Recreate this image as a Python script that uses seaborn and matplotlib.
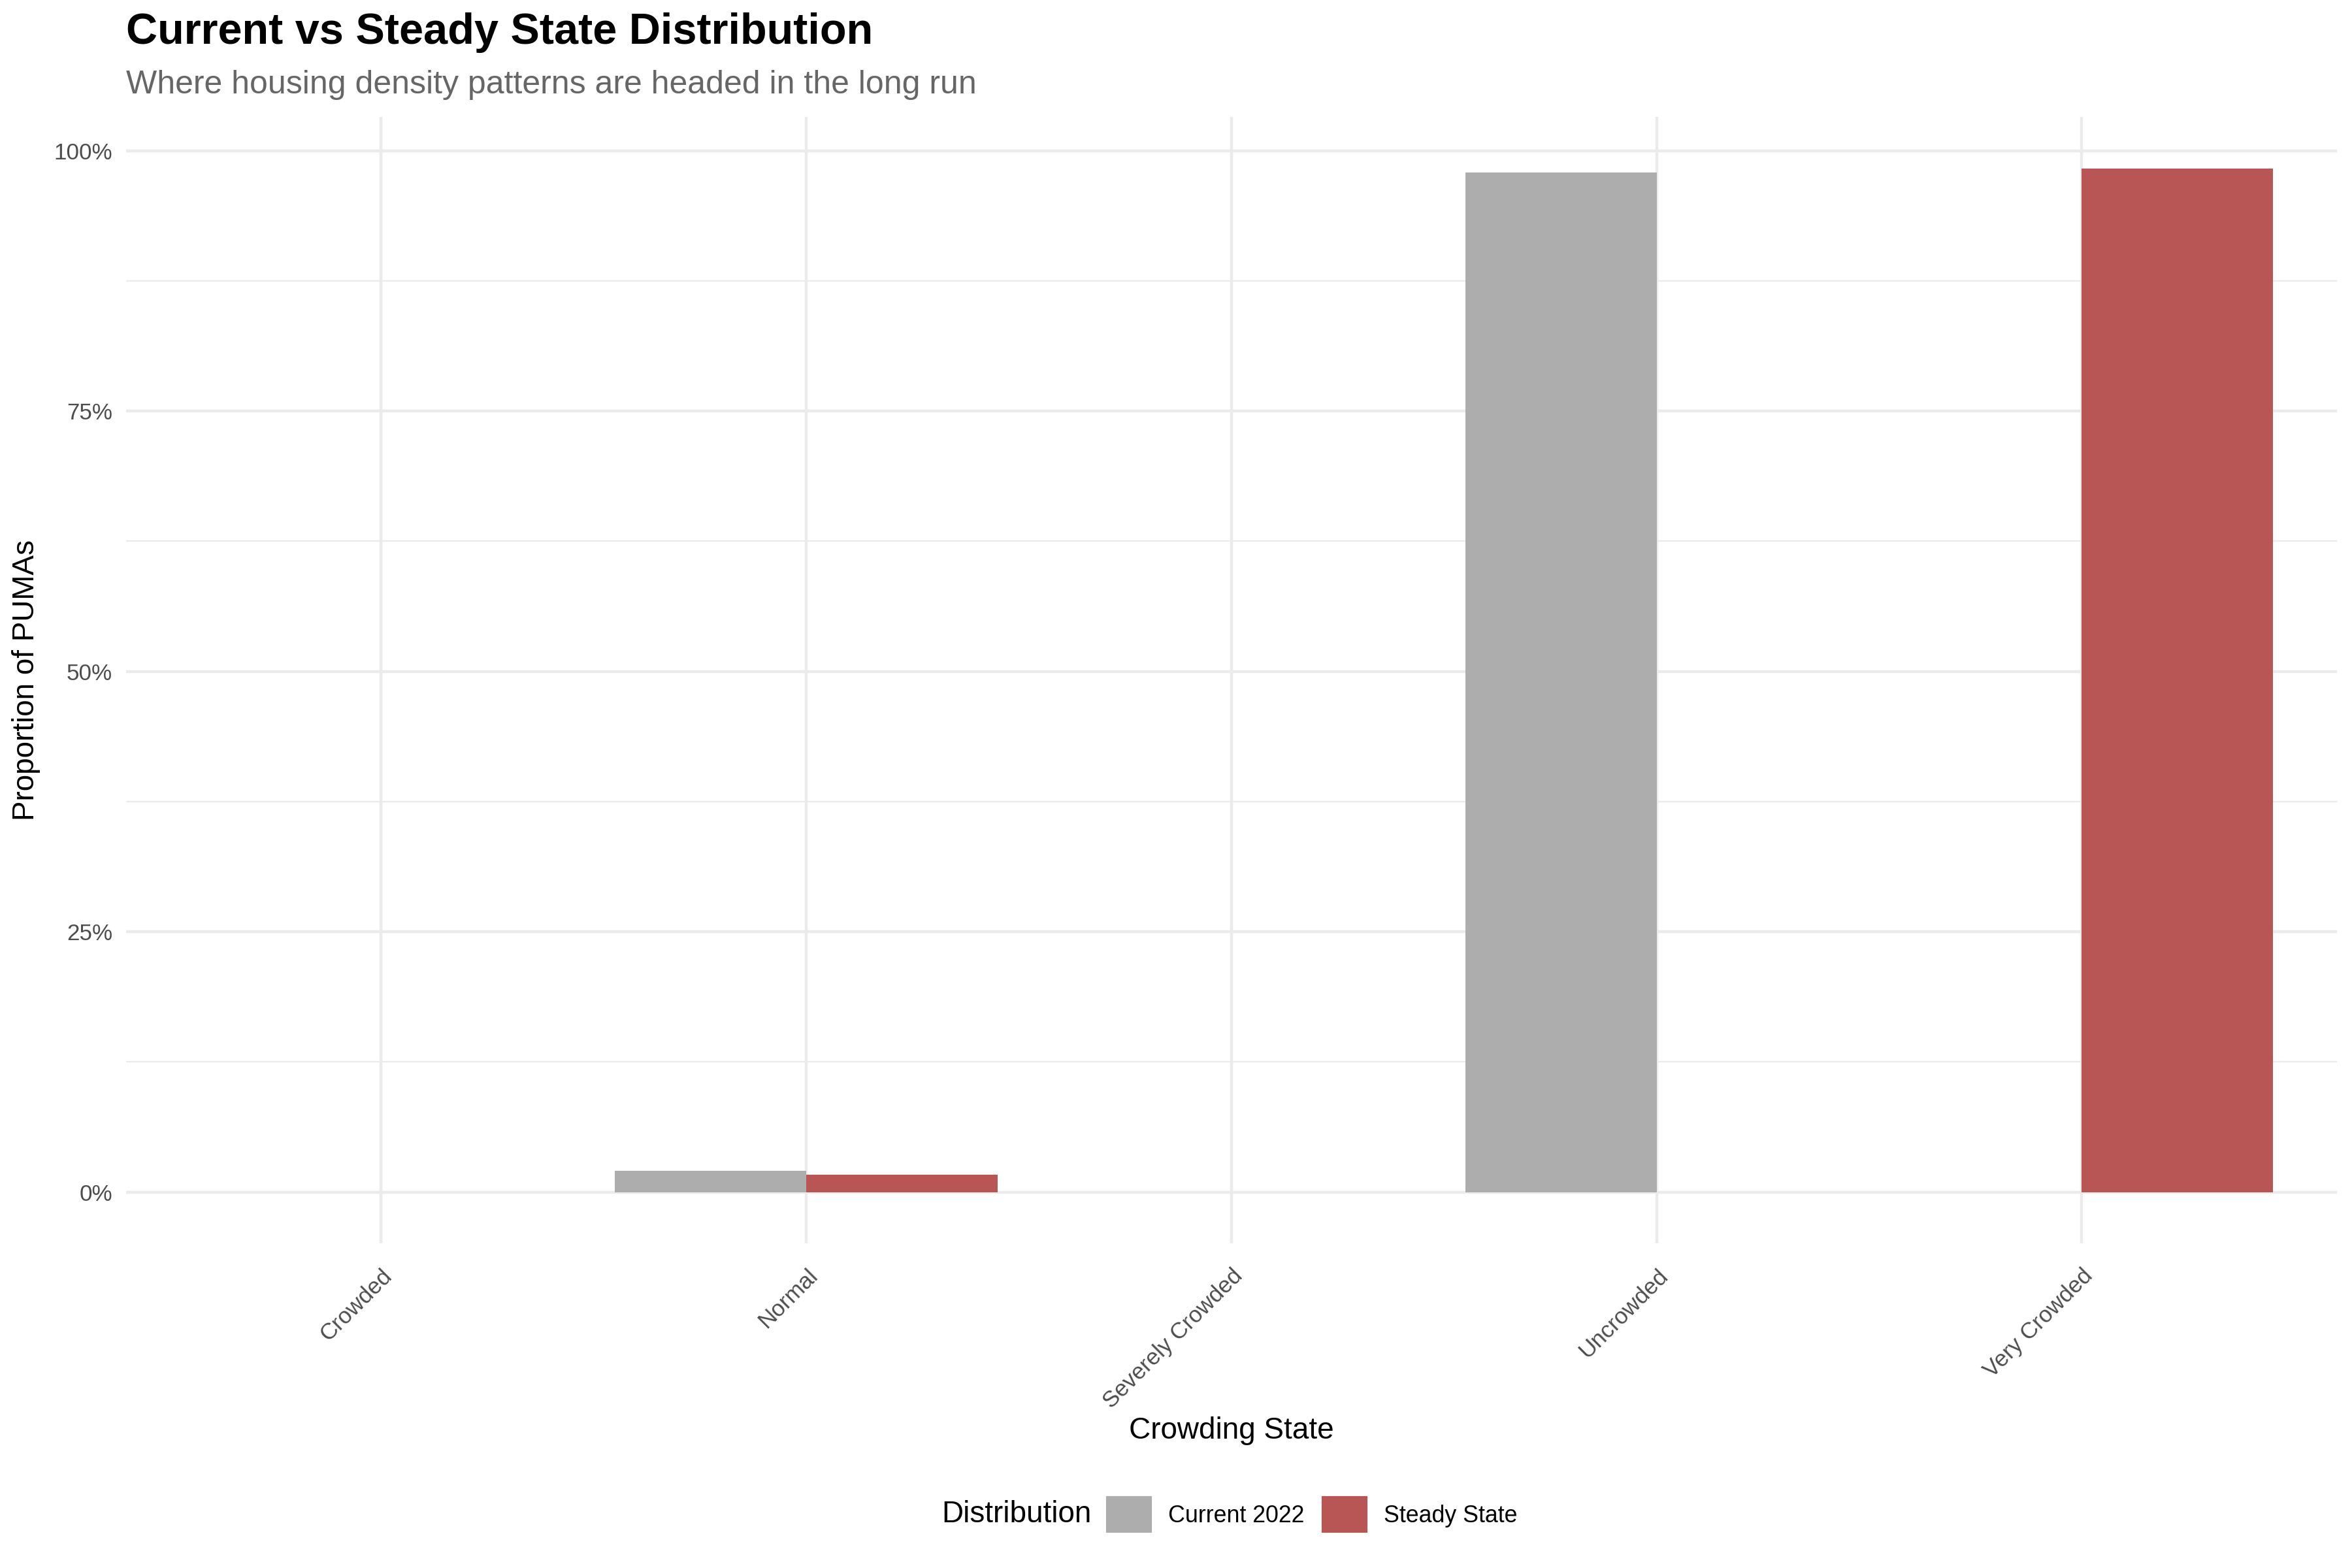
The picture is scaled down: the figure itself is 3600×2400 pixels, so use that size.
import pandas as pd
import matplotlib.pyplot as plt
import matplotlib.patches as mpatches
import seaborn as sns

# Data (proportion of PUMAs per crowding state)
states = ['Crowded', 'Normal', 'Severely Crowded', 'Uncrowded', 'Very Crowded']
current_2022 = [0.0, 0.0207, 0.0, 0.9793, 0.0]
steady_state = [0.0, 0.0169, 0.0, 0.0, 0.9831]
dist_labels = ['Current 2022', 'Steady State']
dist_colors = ['#ADADAD', '#B85555']

df = pd.DataFrame({
    'state': states * 2,
    'prop': current_2022 + steady_state,
    'dist': [dist_labels[0]] * len(states) + [dist_labels[1]] * len(states),
})

sns.set_theme(style='white')
plt.rcParams['font.family'] = ['Liberation Sans', 'DejaVu Sans']
plt.rcParams['text.color'] = 'black'
plt.rcParams['axes.labelcolor'] = 'black'

fig = plt.figure(figsize=(12, 8), dpi=300)
ax = fig.add_axes([0.0536, 0.2071, 0.94, 0.7183])

sns.barplot(data=df, x='state', y='prop', hue='dist', order=states,
            hue_order=dist_labels, palette=dist_colors, width=0.9,
            saturation=1, linewidth=0, errorbar=None, legend=False, ax=ax, zorder=3)

ax.set_xlim(-0.6, 4.6)
ax.set_ylim(-0.0492, 1.0324)

# grid like theme_minimal
grid_col = '#EBEBEB'
for y in [0, 0.25, 0.5, 0.75, 1.0]:
    ax.axhline(y, color=grid_col, lw=1.07, zorder=1)
for y in [0.125, 0.375, 0.625, 0.875]:
    ax.axhline(y, color=grid_col, lw=0.53, zorder=1)
for x in range(len(states)):
    ax.axvline(x, color=grid_col, lw=1.07, zorder=1)

for s in ax.spines.values():
    s.set_visible(False)

ax.set_yticks([0, 0.25, 0.5, 0.75, 1.0])
ax.set_yticklabels(['0%', '25%', '50%', '75%', '100%'])
ax.tick_params(axis='both', length=0, labelsize=8.4, labelcolor='#4D4D4D')
ax.tick_params(axis='y', pad=5)
ax.tick_params(axis='x', pad=8)
for lab in ax.get_xticklabels():
    lab.set_rotation(45)
    lab.set_ha('right')
    lab.set_va('top')
    lab.set_rotation_mode('anchor')

ax.set_xlabel('Crowding State', fontsize=11, color='black', labelpad=1.5)
ax.set_ylabel('Proportion of PUMAs', fontsize=11, color='black', labelpad=5)

fig.text(0.0536, 0.979, 'Current vs Steady State Distribution', fontsize=16,
         fontweight='bold', color='black', ha='left', va='center')
fig.text(0.0536, 0.946, 'Where housing density patterns are headed in the long run',
         fontsize=12, color='#666666', ha='left', va='center')

# legend at bottom, title to the left
fig.text(0.4003, 0.034, 'Distribution', fontsize=11, color='black', ha='left', va='center')
handles = [mpatches.Patch(color=c, label=l) for c, l in zip(dist_colors, dist_labels)]
fig.legend(handles=handles, loc='center left', bbox_to_anchor=(0.4708, 0.034),
           ncol=2, frameon=False, fontsize=8.6, borderpad=0, borderaxespad=0,
           handlelength=1.85, handleheight=1.85, handletextpad=0.75,
           columnspacing=0.8)

plt.savefig('out.png', dpi=300)
